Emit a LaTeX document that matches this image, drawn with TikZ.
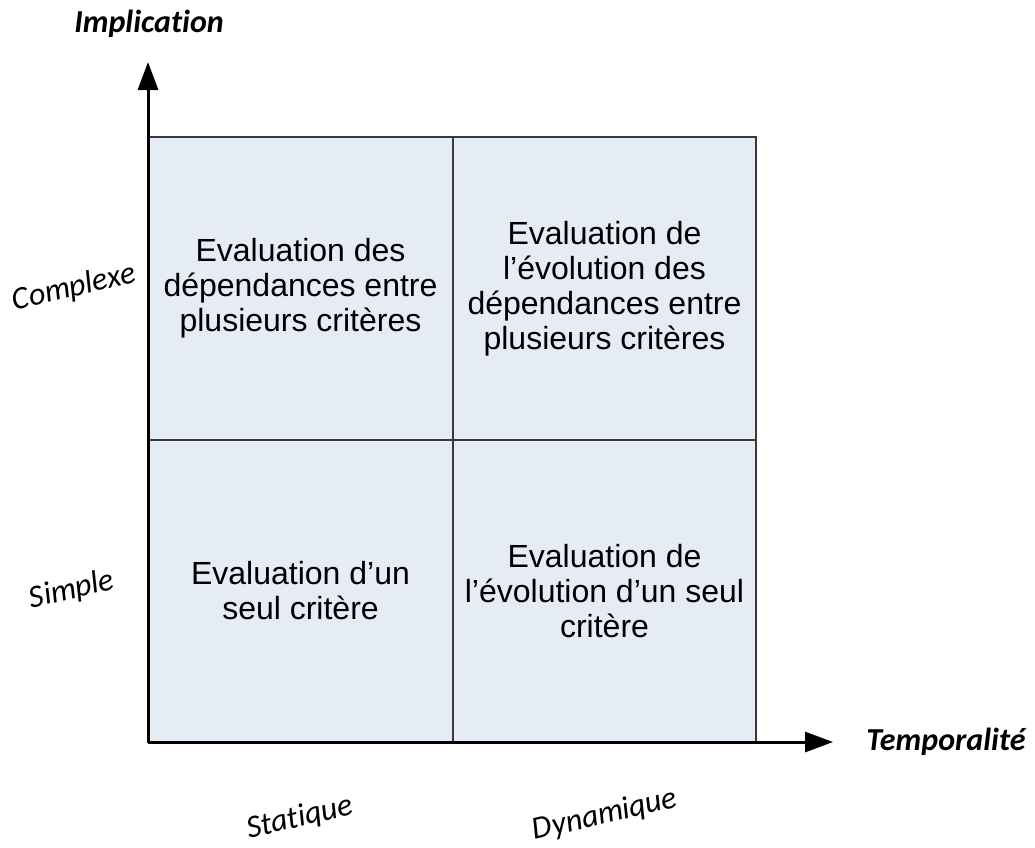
\documentclass[tikz,border=0pt]{standalone}
\usepackage{fontspec}
\setmainfont{Liberation Sans}
\newfontfamily\axisfont[Ligatures={NoCommon}]{Carlito}
\usetikzlibrary{arrows.meta}
\definecolor{cellfill}{RGB}{230,236,246}
\definecolor{cellline}{RGB}{58,58,58}
\tikzset{
  cell/.style={draw=cellline, line width=1.1pt, fill=cellfill, inner sep=0pt,
    align=center, font=\fontsize{32}{35}\selectfont},
  axis/.style={line width=3pt, -{Triangle[length=28pt,width=20pt]}},
  axistitle/.style={font=\axisfont\bfseries\itshape\fontsize{32}{36}\selectfont},
  axislabel/.style={font=\axisfont\itshape\fontsize{32}{36}\selectfont, rotate=13, inner sep=0pt}
}
\begin{document}
\begin{tikzpicture}[x=1pt,y=-1pt]
\useasboundingbox (0,0) rectangle (1035,847);
% cells
\node[cell, minimum width=305pt, minimum height=303pt] (tl) at (300.5,288.5)
  {Evaluation des\\d\'ependances entre\\plusieurs crit\`eres};
\node[cell, minimum width=303pt, minimum height=303pt] (tr) at (604.5,288.5)
  {Evaluation de\\l’\'evolution des\\d\'ependances entre\\plusieurs crit\`eres};
\node[cell, minimum width=305pt, minimum height=302pt] (bl) at (300.5,591)
  {Evaluation d’un\\seul crit\`ere};
\node[cell, minimum width=303pt, minimum height=302pt] (br) at (604.5,591)
  {Evaluation de\\l’\'evolution d’un seul\\crit\`ere};
% axes
\coordinate (origin) at (148,742);
\coordinate (ytip) at (148,62);
\coordinate (xtip) at (833,742);
\draw[axis] (origin) -- (ytip);
\draw[axis] (origin) -- (xtip);
% axis titles
\node[axistitle] (impl) at (149,24) {Implication};
\node[axistitle] (temp) at (946,742) {Temporalit\'e};
% axis labels
\node[axislabel] (cplx) at (74,288) {Complexe};
\node[axislabel] (simp) at (72,590) {Simple};
\node[axislabel] (stat) at (300,818) {Statique};
\node[axislabel] (dyn) at (605,815) {Dynamique};
\end{tikzpicture}
\end{document}
